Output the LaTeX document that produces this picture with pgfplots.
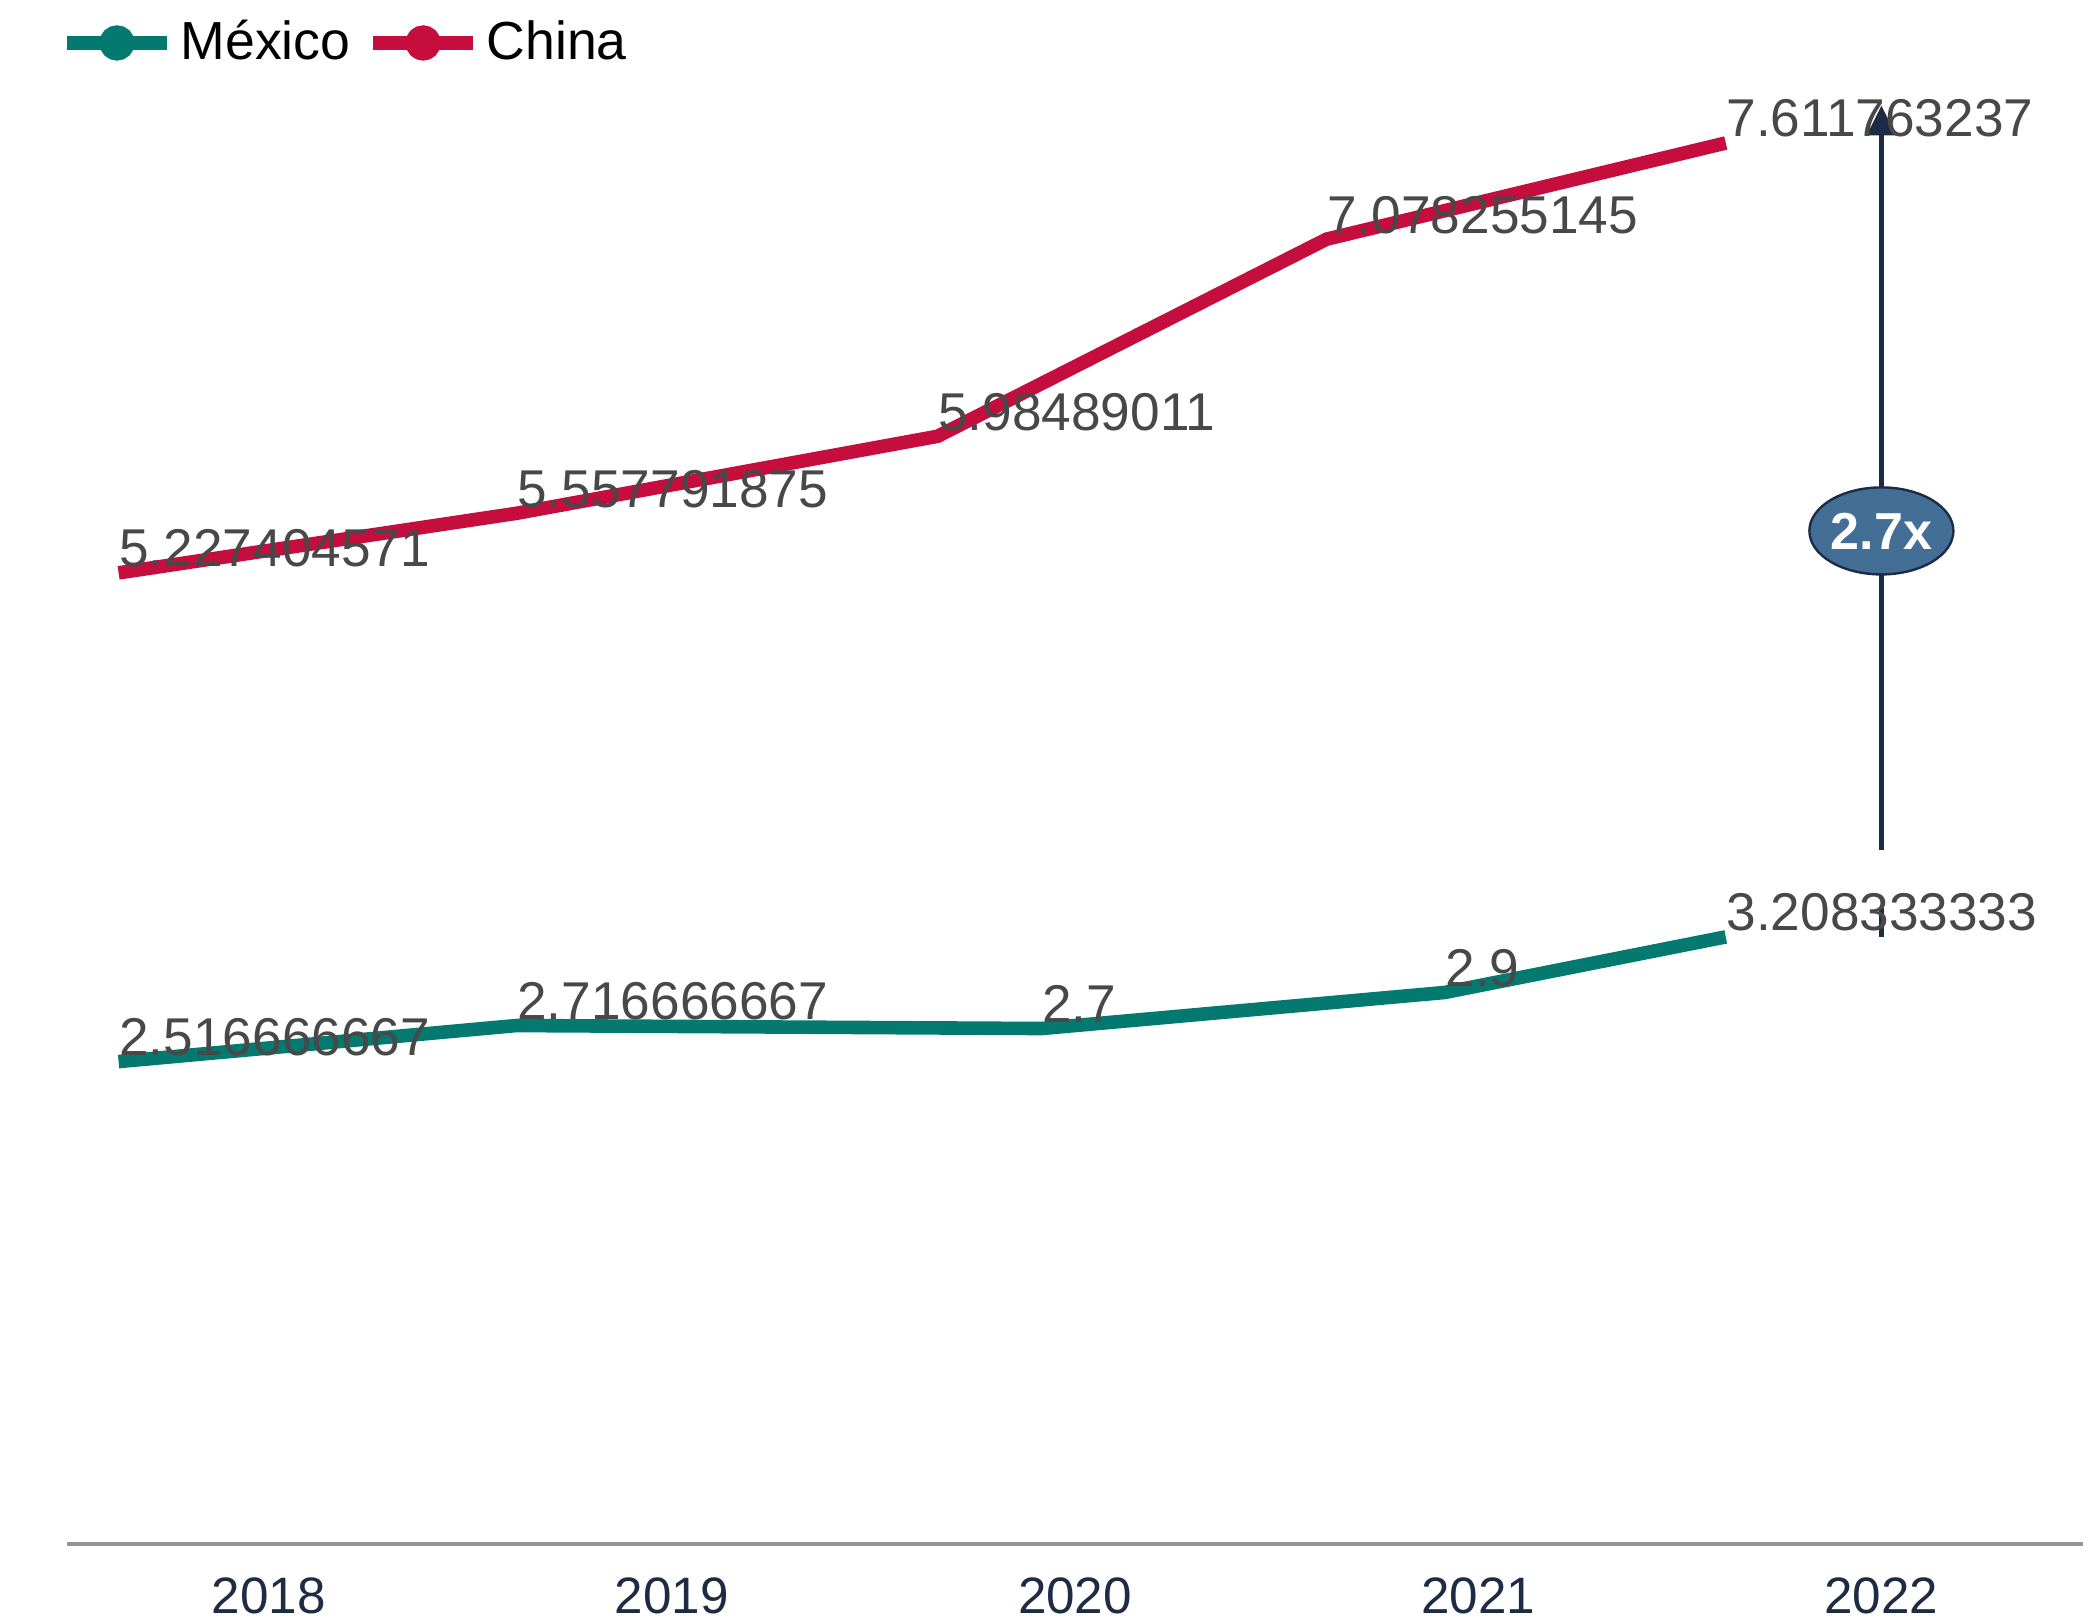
\documentclass[border=0pt]{standalone}
\usepackage{pgfplots}
\pgfplotsset{compat=1.18}
\usepackage{pgfplotstable}
\usepackage{fontspec}
\setmainfont{Liberation Sans}
\usetikzlibrary{arrows.meta,shapes.geometric}
\definecolor{mxteal}{RGB}{3,121,111}
\definecolor{cncrim}{RGB}{197,14,62}
\definecolor{navy}{RGB}{29,43,68}
\definecolor{steel}{RGB}{67,110,150}
\definecolor{lblgray}{RGB}{72,72,72}
\definecolor{axgray}{RGB}{150,150,150}

\pgfplotstableread{
x y label
-0.372 2.516666667 2.516666667
0.615 2.716666667 2.716666667
1.917 2.7 2.7
2.917 2.9 2.9
3.614 3.208333333 3.208333333
}\mexico

\pgfplotstableread{
x y label
-0.372 5.227404571 5.227404571
0.615 5.557791875 5.557791875
1.659 5.98489011 5.98489011
2.624 7.078255145 7.078255145
3.614 7.611763237 7.611763237
}\china

\begin{document}
\begin{tikzpicture}
\begin{axis}[
  name=ax,
  width=504pt, height=367.8pt, scale only axis,
  xmin=-0.5, xmax=4.5, ymin=-0.16, ymax=8,
  axis x line*=bottom, axis y line=none,
  ytick=\empty,
  x axis line style={draw=axgray, line width=1pt},
  xtick={0,1,2,3,4},
  xticklabels={2018,2019,2020,2021,2022},
  major tick length=0pt,
  /pgf/number format/assume math mode=true,
  xticklabel style={font=\fontsize{12.8}{14}\selectfont, text=navy, inner sep=0pt, anchor=north, yshift=-8.25pt},
  clip=false,
  legend columns=2,
  legend style={at={(0,1.0204)}, anchor=west, xshift=-1.7pt, draw=none, fill=none,
    inner sep=0pt, outer sep=0pt, column sep=1.7pt,
    font=\fontsize{13.4}{15}\selectfont,
    nodes={inner sep=0pt, text=black}},
  legend image code/.code={
    \draw[line width=3.4pt, line cap=round] (1.7pt,0pt) -- (23.3pt,0pt);
    \fill (12.5pt,0pt) circle (2.7pt);
    \path (0pt,0pt) -- (25pt,0pt);
  },
  point meta=explicit symbolic,
  nodes near coords={\pgfplotspointmeta},
  nodes near coords style={anchor=base west, inner sep=0pt, yshift=1.5pt, xshift=-1.5pt,
    font=\fontsize{13.3}{15}\selectfont, text=lblgray},
]
\addplot[mxteal, line width=3.4pt, mark=none] table[x=x, y=y, meta=label] {\mexico};
\addlegendentry{México\rule{2.3pt}{0pt}}
\addplot[cncrim, line width=3.4pt, mark=none] table[x=x, y=y, meta=label] {\china};
\addlegendentry{China}

\draw[navy, line width=1.3pt, -{Triangle[width=7pt,length=7.5pt]}] (axis cs:4,3.69) -- (axis cs:4,7.82);
\draw[navy, line width=1.3pt] (axis cs:4,3.21) -- (axis cs:4,3.37);
\node[ellipse, fill=steel, draw=navy, line width=0.6pt, minimum width=36pt, minimum height=21.75pt,
  inner sep=0pt, text=white, font=\bfseries\fontsize{13}{15}\selectfont] at (axis cs:4,5.46) {2.7x};
\end{axis}
\pgfresetboundingbox
\path ([shift={(-16.75pt,-19.25pt)}]ax.south west) rectangle ([shift={(4.25pt,18.25pt)}]ax.north east);
\end{tikzpicture}
\end{document}
